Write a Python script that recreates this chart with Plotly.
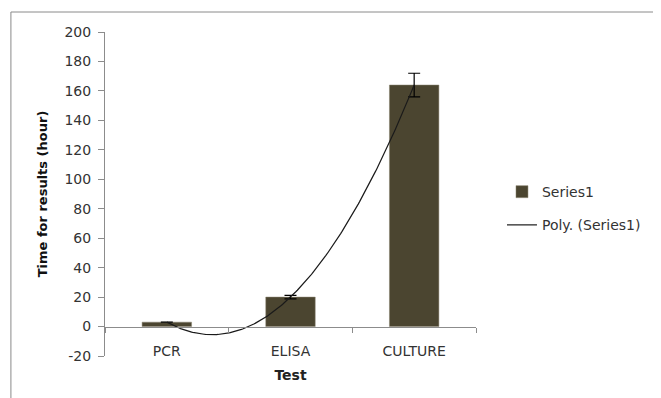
import numpy as np
import plotly.graph_objects as go

categories = ["PCR", "ELISA", "CULTURE"]
positions = [1, 2, 3]
values = [3, 20, 164]
errors = [None, 1.2, 8]
y_ticks = [-20, 0, 20, 40, 60, 80, 100, 120, 140, 160, 180, 200]
y_ticktext = ["-20", "0", "20", "40", "60", "80", "100", "120", "140", "160", "180", "200"]
boundaries = [0.5, 1.5, 2.5, 3.5]

# Excel-style order-2 polynomial trendline fitted to the series
coef = np.polyfit(positions, values, 2)
trend_x = np.linspace(positions[0], positions[-1], 200)
trend_y = np.polyval(coef, trend_x)

FONT = "DejaVu Sans"
TXT = "#333333"
AX = "#8c8c8c"

fig = go.Figure()
fig.add_trace(go.Bar(
    x=positions, y=values, name="Series1", width=0.4,
    marker=dict(color="#4b4530", line=dict(color="#8a8570", width=0.5)),
    error_y=dict(type="data", array=errors, visible=True, color="#000000",
                 thickness=1.2, width=6),
    legendgroup="a",
))
fig.add_trace(go.Scatter(
    x=trend_x, y=trend_y, mode="lines", name="Poly. (Series1)",
    line=dict(color="#1a1a1a", width=1.2), legendgroup="b",
))
# invisible trace to attach the category label axis
fig.add_trace(go.Scatter(x=positions, y=values, xaxis="x2", mode="markers",
                         marker=dict(opacity=0), showlegend=False, hoverinfo="skip"))

zero_pos = (0 - y_ticks[0]) / (y_ticks[-1] - y_ticks[0])

fig.update_layout(
    width=661, height=398,
    margin=dict(l=97, r=193, t=24, b=50),
    paper_bgcolor="white", plot_bgcolor="white",
    font=dict(family=FONT, size=14, color=TXT),
    showlegend=True,
    legend=dict(x=1.07, y=0.455, xanchor="left", yanchor="middle",
                font=dict(family=FONT, size=14, color=TXT),
                tracegroupgap=12, bgcolor="rgba(0,0,0,0)"),
    xaxis=dict(range=[0.5, 3.5], anchor="free", position=zero_pos,
               showline=True, linecolor=AX, linewidth=1,
               tickvals=boundaries, ticks="outside", ticklen=5, tickcolor=AX,
               showticklabels=False, showgrid=False, zeroline=False),
    xaxis2=dict(range=[0.5, 3.5], overlaying="x", anchor="free", position=zero_pos,
                side="bottom", showline=False, ticks="",
                tickvals=positions, ticktext=categories,
                ticklabelstandoff=14,
                tickfont=dict(family=FONT, size=14, color=TXT),
                showgrid=False, zeroline=False,
                title=dict(text="<b>Test</b>", standoff=12,
                           font=dict(family=FONT, size=14, color="#222222"))),
    yaxis=dict(range=[y_ticks[0], y_ticks[-1]], tickvals=y_ticks, ticktext=y_ticktext,
               showline=True, linecolor=AX, linewidth=1,
               ticks="outside", ticklen=6, tickcolor=AX,
               ticklabelstandoff=4,
               showgrid=False, zeroline=False,
               tickfont=dict(family=FONT, size=14, color=TXT),
               title=dict(text="<b>Time for results (hour)</b>", standoff=13,
                          font=dict(family=FONT, size=13, color="#111111"))),
    bargap=0.6,
    shapes=[dict(type="rect", xref="paper", yref="paper",
                 x0=-0.2536, x1=1.6, y0=-0.2, y1=1.0617,
                 line=dict(color="#8a8a8a", width=1), fillcolor="rgba(0,0,0,0)",
                 layer="below")],
)

fig.write_html("out.html")
